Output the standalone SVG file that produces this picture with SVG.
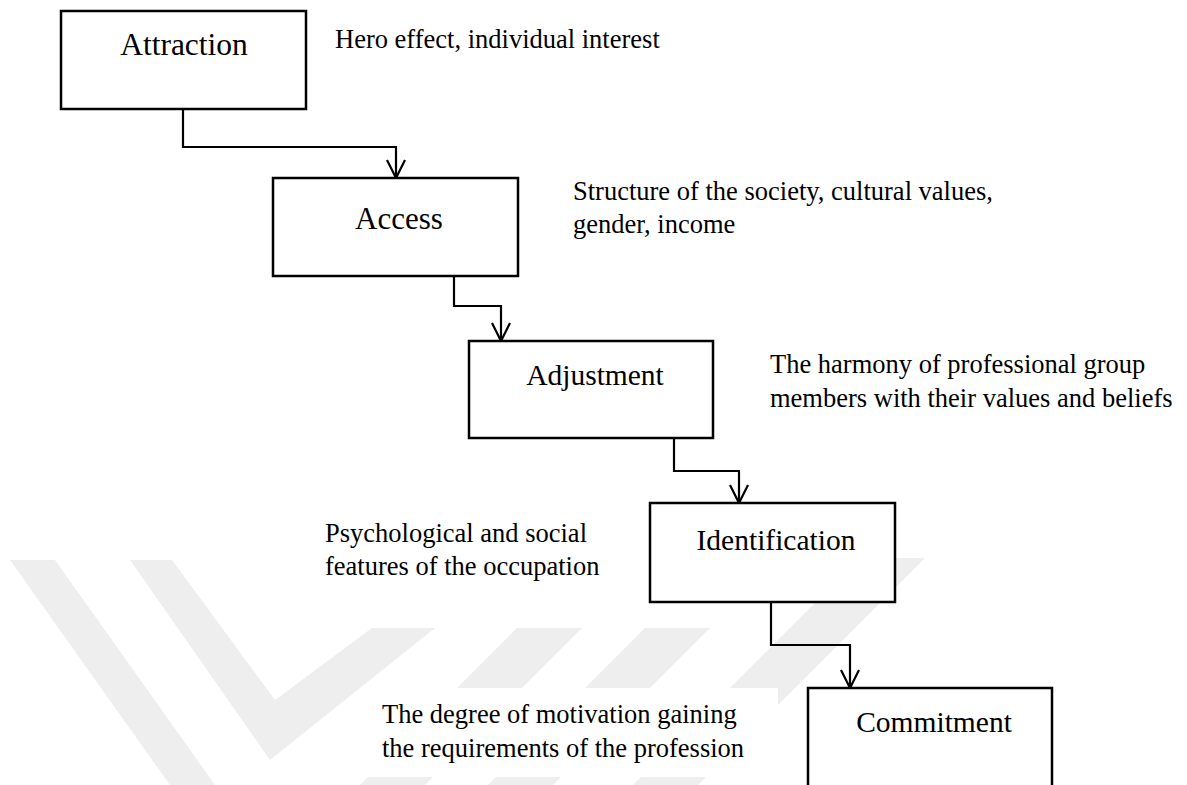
<svg xmlns="http://www.w3.org/2000/svg" width="1187" height="785" viewBox="0 0 1187 785">
  <defs>
    <style>
      .box { fill: #ffffff; stroke: #000000; stroke-width: 2.5; }
      .label { font-family: "Liberation Serif", "Times New Roman", serif; fill: #000000; text-anchor: middle; }
      .note { font-family: "Liberation Serif", "Times New Roman", serif; font-size: 26.5px; fill: #000000; }
      .edge { fill: none; stroke: #000000; stroke-width: 2.2; }
      .mark { fill: #eeeeee; }
    </style>
    <marker id="open-arrow" markerUnits="userSpaceOnUse" markerWidth="24" markerHeight="24" viewBox="-20 -12 24 24" refX="0" refY="0" orient="auto">
      <path d="M -18 -9 L 0 0 L -18 9" fill="none" stroke="#000000" stroke-width="2.2"/>
    </marker>
  </defs>

  <rect x="0" y="0" width="1187" height="785" fill="#ffffff"/>

  <!-- faint background watermark -->
  <g id="watermark">
    <polygon class="mark" points="10,560 55,560 215,785 170,785"/>
    <polygon class="mark" points="130,560 172,560 275,700 372,628 435,628 270,760"/>
    <polygon class="mark" points="517,628 582,628 425,785 360,785"/>
    <polygon class="mark" points="645,628 710,628 553,785 488,785"/>
    <polygon class="mark" points="860,558 925,558 698,785 633,785"/>
  </g>

  <!-- white panels behind the lower notes -->
  <rect x="300" y="500" width="340" height="128" fill="#ffffff"/>
  <rect x="361" y="688" width="417" height="89" fill="#ffffff"/>

  <!-- connectors -->
  <g id="connectors">
    <path class="edge" d="M183,109 V147 H396 V178" marker-end="url(#open-arrow)"/>
    <path class="edge" d="M454,276 V306 H501 V341" marker-end="url(#open-arrow)"/>
    <path class="edge" d="M674,438 V471 H739 V503" marker-end="url(#open-arrow)"/>
    <path class="edge" d="M771,602 V645 H850 V688" marker-end="url(#open-arrow)"/>
  </g>

  <!-- stage nodes -->
  <g id="node-attraction">
    <rect class="box" x="61" y="11" width="245" height="98"/>
    <text class="label" x="184" y="55" font-size="31.5">Attraction</text>
  </g>
  <g id="node-access">
    <rect class="box" x="273" y="178" width="245" height="98"/>
    <text class="label" x="399" y="229" font-size="31">Access</text>
  </g>
  <g id="node-adjustment">
    <rect class="box" x="469" y="341" width="244" height="97"/>
    <text class="label" x="595" y="385" font-size="29.5">Adjustment</text>
  </g>
  <g id="node-identification">
    <rect class="box" x="650" y="503" width="245" height="99"/>
    <text class="label" x="776" y="550" font-size="29.5">Identification</text>
  </g>
  <g id="node-commitment">
    <rect class="box" x="808" y="688" width="244" height="120"/>
    <text class="label" x="934" y="732" font-size="29.5">Commitment</text>
  </g>

  <!-- notes beside each stage -->
  <g id="note-attraction">
    <text class="note" x="335" y="48">Hero effect, individual interest</text>
  </g>
  <g id="note-access">
    <text class="note" x="573" y="200">Structure of the society, cultural values,</text>
    <text class="note" x="573" y="233">gender, income</text>
  </g>
  <g id="note-adjustment">
    <text class="note" x="770" y="373">The harmony of professional group</text>
    <text class="note" x="770" y="407">members with their values and beliefs</text>
  </g>
  <g id="note-identification">
    <text class="note" x="325" y="542">Psychological and social</text>
    <text class="note" x="325" y="575">features of the occupation</text>
  </g>
  <g id="note-commitment">
    <text class="note" x="382" y="723">The degree of motivation gaining</text>
    <text class="note" x="382" y="757">the requirements of the profession</text>
  </g>
</svg>
